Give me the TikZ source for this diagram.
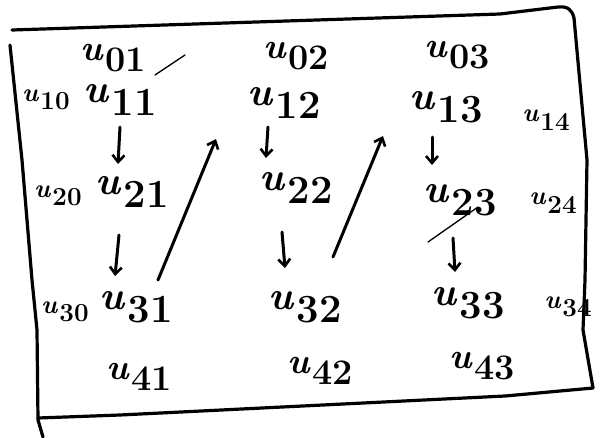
\documentclass[tikz,border=0pt]{standalone}
\usepackage{fontspec}
\usetikzlibrary{arrows.meta}
\newcommand\uvar[1]{{\bfseries\itshape u}\kern0.08em\raisebox{-0.32em}{\bfseries #1}}
\begin{document}
\begin{tikzpicture}[x=1pt,y=-1pt,
  big/.style={inner sep=0pt,font=\fontsize{40}{42}\selectfont},
  mid/.style={inner sep=0pt,font=\fontsize{36}{38}\selectfont},
  small/.style={inner sep=0pt,font=\fontsize{26}{28}\selectfont},
  frame/.style={line width=3.2pt,line join=round,line cap=round},
  flow/.style={line width=3pt,line cap=round,-{Straight Barb[length=7pt,width=12pt,line width=2.6pt]}},
  scratch/.style={line width=1.3pt,line cap=round}]
\useasboundingbox (0,0) rectangle (605,437);
% frame, drawn as four hand strokes
\coordinate (t1) at (12,30);
\coordinate (t2) at (500,14);
\coordinate (t3) at (558,7);
\coordinate (r1) at (574,18);
\coordinate (r2) at (587,160);
\coordinate (r3) at (585,280);
\coordinate (r4) at (583,330);
\coordinate (r5) at (593,388);
\coordinate (b1) at (505,396);
\coordinate (b2) at (120,415);
\coordinate (b3) at (38,418);
\coordinate (l1) at (10,45);
\coordinate (l2) at (22,160);
\coordinate (l3) at (32,280);
\coordinate (l4) at (37,330);
\coordinate (l5) at (38,420);
\coordinate (l6) at (43,437);
\draw[frame] (t1) -- (t2) -- (t3) .. controls (568,6) and (572,10) .. (r1);
\draw[frame] (r1) -- (r2) -- (r3) -- (r4) -- (r5);
\draw[frame] (r5) -- (b1) -- (b2) -- (b3);
\draw[frame] (l1) -- (l2) -- (l3) -- (l4) -- (l5) -- (l6);
% top row
\node[mid] (u01) at (113,58) {\uvar{01}};
\node[mid] (u02) at (296,56) {\uvar{02}};
\node[mid] (u03) at (457,55) {\uvar{03}};
% row 1
\node[small] (u10) at (46,100) {\uvar{10}};
\node[big] (u11) at (120,100) {\uvar{11}};
\node[big] (u12) at (284,103) {\uvar{12}};
\node[big] (u13) at (446,107) {\uvar{13}};
\node[small] (u14) at (546,120) {\uvar{14}};
% row 2
\node[small] (u20) at (58,196) {\uvar{20}};
\node[big] (u21) at (132,192) {\uvar{21}};
\node[big] (u22) at (296,188) {\uvar{22}};
\node[big] (u23) at (460,200) {\uvar{23}};
\node[small] (u24) at (553,203) {\uvar{24}};
% row 3
\node[small] (u30) at (65,312) {\uvar{30}};
\node[big] (u31) at (136,307) {\uvar{31}};
\node[big] (u32) at (305,307) {\uvar{32}};
\node[big] (u33) at (468,303) {\uvar{33}};
\node[small] (u34) at (568,307) {\uvar{34}};
% bottom row
\node[mid] (u41) at (139,377) {\uvar{41}};
\node[mid] (u42) at (320,371) {\uvar{42}};
\node[mid] (u43) at (482,366) {\uvar{43}};
% arrows
\draw[flow] (120,127) -- (118,164);
\draw[flow] (119,235) -- (115,276);
\draw[flow] (158,280) -- (216,139);
\draw[flow] (268,127) -- (266,158);
\draw[flow] (282,232) -- (285,268);
\draw[flow] (333,257) -- (383,136);
\draw[flow] (432,137) -- (432,165);
\draw[flow] (453,238) -- (455,272);
% correction stroke on u23 and stray mark
\draw[scratch] (428,242) -- (478,207);
\draw[scratch] (155,75) -- (185,55);
\end{tikzpicture}
\end{document}
